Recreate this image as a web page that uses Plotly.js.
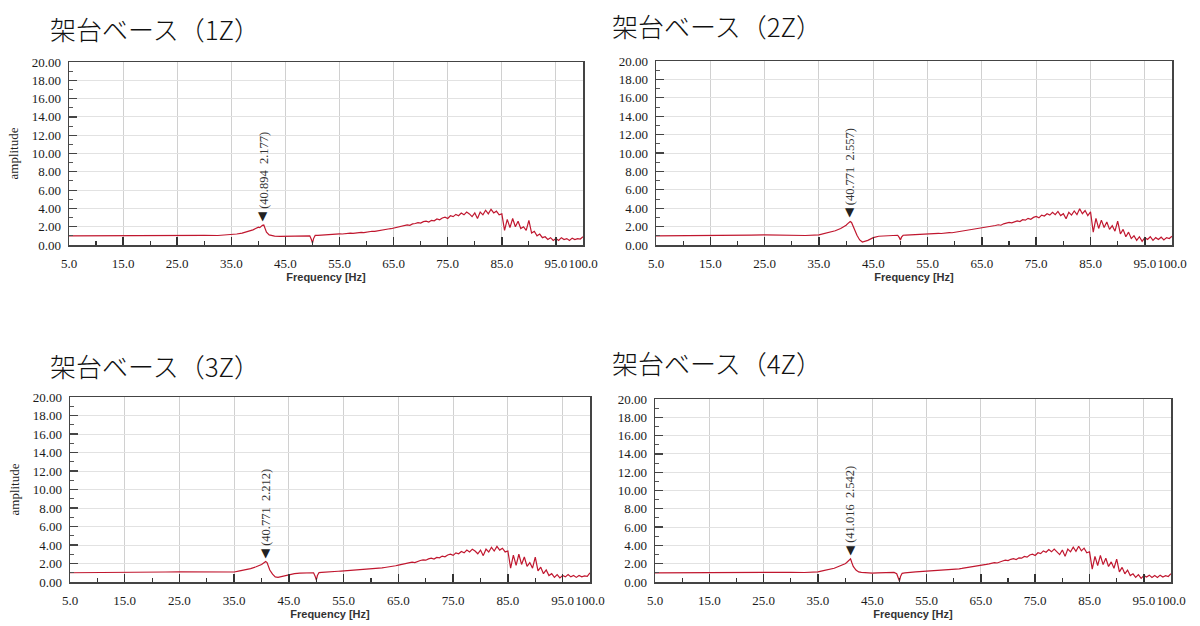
<!DOCTYPE html>
<html>
<head>
<meta charset="utf-8">
<script src="https://cdn.plot.ly/plotly-3.0.1.min.js"></script>
<style>html,body{margin:0;padding:0;background:#fff;}#chart{width:1200px;height:626px;}</style>
</head>
<body>
<div id="chart"></div>
<script>
// ---- Data ----
const chartTitles = ["架台ベース（1Z）", "架台ベース（2Z）", "架台ベース（3Z）", "架台ベース（4Z）"];

const freq = [
  5, 7.5, 10, 12.5, 15, 17.5, 20, 22.5, 25, 27.5, 30, 32.5, 35,
  36, 37, 38, 39, 39.5, 40, 40.25, 40.5, 40.75, 41, 41.25, 41.5, 42, 42.5, 43, 44, 45, 46, 47, 48, 49, 49.5, 49.8, 50, 50.2, 50.5, 51, 51.5,
  52, 52.5, 53, 53.5, 54, 54.5, 55, 55.5, 56, 56.5,
  57, 57.5, 58, 58.5, 59, 59.5, 60, 60.5, 61, 61.5,
  62, 62.5, 63, 63.5, 64, 64.5, 65, 65.5, 66, 66.5,
  67, 67.5, 68, 68.5, 69, 69.5, 70, 70.5, 71, 71.5,
  72, 72.5, 73, 73.5, 74, 74.5, 75, 75.5, 76, 76.5,
  77, 77.5, 78, 78.5, 79, 79.5, 80, 80.5, 81, 81.5,
  82, 82.5, 83, 83.5, 84, 84.5, 85, 85.5, 86, 86.5,
  87, 87.5, 88, 88.5, 89, 89.5, 90, 90.5, 91, 91.5,
  92, 92.5, 93, 93.5, 94, 94.5, 95, 95.5, 96, 96.5,
  97, 97.5, 98, 98.5, 99, 99.5, 100
];

const amp1Z = [
  1.00, 1.01, 1.02, 1.03, 1.05, 1.06, 1.08, 1.10, 1.12, 1.10, 1.06, 1.04, 1.10,
  1.20, 1.30, 1.45, 1.65, 1.80, 1.95, 1.90, 2.05, 2.15, 2.18, 1.75, 1.40, 1.10, 1.00, 0.98, 0.95, 0.95, 0.97, 1.00, 1.00, 1.02, 1.00, 0.60, 0.20, 0.70, 1.05, 1.05, 1.08,
  1.10, 1.12, 1.15, 1.13, 1.18, 1.20, 1.22, 1.20, 1.25, 1.27,
  1.30, 1.28, 1.33, 1.35, 1.38, 1.36, 1.42, 1.45, 1.50, 1.48,
  1.55, 1.60, 1.62, 1.70, 1.75, 1.78, 1.85, 1.90, 1.95, 2.05,
  2.10, 2.20, 2.15, 2.30, 2.35, 2.45, 2.40, 2.55, 2.60, 2.50,
  2.70, 2.65, 2.85, 2.75, 2.95, 3.05, 2.90, 3.20, 3.10, 3.35,
  3.20, 3.50, 3.30, 3.60, 3.40, 3.10, 3.50, 2.90, 3.60, 3.30,
  3.80, 3.40, 3.90, 3.50, 3.70, 3.30, 3.40, 1.60, 2.80, 1.90,
  2.90, 2.00, 2.60, 1.80, 2.00, 1.60, 2.70, 1.30, 1.50, 1.00,
  1.20, 0.80, 0.90, 0.60, 0.80, 0.50, 0.70, 0.50, 0.80, 0.60,
  0.70, 0.50, 0.75, 0.60, 0.70, 0.65, 0.90
];

const amp2Z = [
  1.00, 1.00, 1.01, 1.02, 1.03, 1.05, 1.06, 1.08, 1.10, 1.08, 1.05, 1.03, 1.10,
  1.25, 1.40, 1.55, 1.80, 1.95, 2.15, 2.30, 2.40, 2.56, 2.45, 2.05, 1.65, 1.05, 0.55, 0.32, 0.50, 0.80, 0.95, 1.00, 1.05, 1.08, 1.06, 0.80, 0.55, 0.85, 1.06, 1.08, 1.10,
  1.10, 1.12, 1.14, 1.15, 1.13, 1.18, 1.20, 1.22, 1.20, 1.24,
  1.27, 1.25, 1.30, 1.32, 1.35, 1.33, 1.38, 1.42, 1.45, 1.50,
  1.52, 1.58, 1.62, 1.65, 1.72, 1.75, 1.82, 1.88, 1.92, 2.00,
  2.05, 2.12, 2.20, 2.15, 2.30, 2.35, 2.45, 2.40, 2.55, 2.62,
  2.55, 2.75, 2.70, 2.90, 2.80, 3.00, 3.10, 2.95, 3.25, 3.15,
  3.40, 3.25, 3.55, 3.30, 3.65, 3.20, 3.40, 2.85, 3.55, 3.25,
  3.70, 3.30, 3.95, 3.40, 3.75, 3.20, 3.60, 1.40, 2.90, 1.80,
  2.70, 1.90, 2.50, 1.70, 2.10, 1.50, 2.60, 1.20, 1.70, 0.90,
  1.40, 0.70, 1.00, 0.50, 0.90, 0.40, 0.80, 0.60, 0.90, 0.50,
  0.80, 0.60, 0.85, 0.55, 0.80, 0.70, 0.95
];

const amp3Z = [
  1.00, 1.00, 1.01, 1.02, 1.03, 1.05, 1.06, 1.08, 1.10, 1.10, 1.06, 1.03, 1.08,
  1.20, 1.30, 1.45, 1.65, 1.75, 1.90, 2.00, 2.10, 2.21, 2.10, 1.70, 1.30, 0.85, 0.55, 0.50, 0.65, 0.80, 0.90, 0.95, 1.00, 1.02, 1.00, 0.60, 0.20, 0.70, 1.02, 1.05, 1.08,
  1.08, 1.10, 1.13, 1.12, 1.16, 1.18, 1.20, 1.19, 1.23, 1.25,
  1.28, 1.26, 1.30, 1.33, 1.36, 1.34, 1.40, 1.43, 1.47, 1.45,
  1.52, 1.57, 1.60, 1.66, 1.72, 1.76, 1.82, 1.88, 1.93, 2.00,
  2.06, 2.15, 2.10, 2.25, 2.32, 2.40, 2.36, 2.50, 2.58, 2.48,
  2.66, 2.62, 2.80, 2.72, 2.92, 3.00, 2.88, 3.15, 3.05, 3.30,
  3.15, 3.45, 3.25, 3.55, 3.35, 3.05, 3.45, 2.85, 3.55, 3.25,
  3.75, 3.35, 3.85, 3.45, 3.65, 3.25, 3.35, 1.50, 2.90, 1.80,
  3.00, 1.90, 2.70, 1.70, 2.10, 1.50, 2.70, 1.20, 1.60, 0.90,
  1.30, 0.70, 0.90, 0.50, 0.80, 0.45, 0.70, 0.55, 0.80, 0.55,
  0.70, 0.50, 0.70, 0.55, 0.65, 0.60, 1.00
];

const amp4Z = [
  1.00, 1.01, 1.02, 1.03, 1.05, 1.06, 1.08, 1.10, 1.12, 1.10, 1.06, 1.04, 1.10,
  1.25, 1.35, 1.50, 1.75, 1.85, 2.00, 2.10, 2.25, 2.35, 2.54, 2.10, 1.70, 1.30, 1.10, 1.05, 1.00, 0.98, 1.00, 1.02, 1.10, 1.05, 0.90, 0.40, 0.10, 0.60, 0.95, 1.00, 1.05,
  1.05, 1.08, 1.10, 1.12, 1.11, 1.15, 1.18, 1.20, 1.18, 1.22,
  1.25, 1.23, 1.28, 1.30, 1.33, 1.31, 1.36, 1.40, 1.44, 1.48,
  1.52, 1.56, 1.60, 1.66, 1.70, 1.75, 1.80, 1.86, 1.92, 1.98,
  2.05, 2.12, 2.08, 2.22, 2.30, 2.38, 2.34, 2.48, 2.55, 2.46,
  2.64, 2.60, 2.80, 2.72, 2.95, 3.05, 2.90, 3.20, 3.10, 3.40,
  3.25, 3.55, 3.30, 3.60, 3.35, 3.00, 3.50, 2.80, 3.60, 3.30,
  3.80, 3.35, 3.90, 3.40, 3.70, 3.20, 3.30, 1.40, 2.80, 1.80,
  2.90, 1.90, 2.60, 1.70, 2.20, 1.50, 2.50, 1.10, 1.60, 0.90,
  1.30, 0.70, 0.90, 0.50, 0.80, 0.40, 0.70, 0.55, 0.75, 0.50,
  0.70, 0.50, 0.75, 0.55, 0.70, 0.60, 0.90
];

const peakFreq = [40.894, 40.771, 40.771, 41.016];
const peakAmp = [2.177, 2.557, 2.212, 2.542];
const peakLabels = ["(40.894  2.177)", "(40.771  2.557)", "(40.771  2.212)", "(41.016  2.542)"];

const xTickVals = [5, 15, 25, 35, 45, 55, 65, 75, 85, 95, 100];
const xTickText = ["5.0", "15.0", "25.0", "35.0", "45.0", "55.0", "65.0", "75.0", "85.0", "95.0", "100.0"];
const xMinorVals = [10, 20, 30, 40, 50, 60, 70, 80, 90];
const yTickVals = [0, 2, 4, 6, 8, 10, 12, 14, 16, 18, 20];
const yTickText = ["0.00", "2.00", "4.00", "6.00", "8.00", "10.00", "12.00", "14.00", "16.00", "18.00", "20.00"];

const xAxisTitle = "Frequency [Hz]";
const yAxisTitle = "amplitude";

// ---- Layout geometry (pixels in a 1200x626 figure) ----
const W = 1200, H = 626;
const boxes = [
  {l: 69, r: 583, t: 62, b: 245, title: [48, 28], ytitle: true},
  {l: 656, r: 1172, t: 61, b: 245, title: [610, 26], ytitle: false},
  {l: 70, r: 590, t: 397, b: 582, title: [48, 365], ytitle: true},
  {l: 655, r: 1171, t: 399, b: 582, title: [610, 362], ytitle: false}
];
const series = [amp1Z, amp2Z, amp3Z, amp4Z];

const tickFont = {family: "Liberation Serif, serif", size: 13, color: "#1a1a1a"};
const lineColor = "#c0172f";

const data = [];
const layout = {
  width: W, height: H,
  margin: {l: 0, r: 0, t: 0, b: 0},
  paper_bgcolor: "#fff", plot_bgcolor: "#fff",
  showlegend: false,
  annotations: [],
  shapes: []
};

boxes.forEach((bx, i) => {
  const n = i === 0 ? "" : String(i + 1);
  const xa = "x" + n, ya = "y" + n;
  data.push({
    x: freq, y: series[i], xaxis: xa, yaxis: ya,
    type: "scatter", mode: "lines",
    line: {color: lineColor, width: 1.2},
    hoverinfo: "skip"
  });
  layout["xaxis" + n] = {
    domain: [bx.l / W, bx.r / W], anchor: ya,
    range: [5, 100], fixedrange: true,
    tickmode: "array", tickvals: xTickVals, ticktext: xTickText,
    tickangle: 0,
    ticks: "inside", ticklen: 8, tickwidth: 1.5, tickcolor: "#333",
    ticklabelstandoff: 6,
    minor: {tickmode: "array", tickvals: xMinorVals, ticks: "inside", ticklen: 4, tickwidth: 1.2, tickcolor: "#333", showgrid: false},
    showgrid: true, gridcolor: "#d0d0d0", gridwidth: 1,
    showline: true, linecolor: "#444", linewidth: 1.5, mirror: true,
    zeroline: false,
    tickfont: tickFont,
    title: {text: xAxisTitle, standoff: 1, font: {family: "Liberation Sans, Arial, sans-serif", size: 11, color: "#333", weight: "bold"}}
  };
  layout["yaxis" + n] = {
    domain: [1 - bx.b / H, 1 - bx.t / H], anchor: xa,
    range: [0, 20], fixedrange: true,
    tickmode: "array", tickvals: yTickVals, ticktext: yTickText,
    ticks: "inside", ticklen: 8, tickwidth: 1.2, tickcolor: "#444",
    ticklabelstandoff: 4,
    minor: {dtick: 1, ticks: "inside", ticklen: 4, tickwidth: 1, tickcolor: "#555", showgrid: false},
    showgrid: true, gridcolor: "#e2e2e2", gridwidth: 1,
    showline: true, linecolor: "#444", linewidth: 1.5, mirror: true,
    zeroline: false,
    tickfont: tickFont,
    title: bx.ytitle ? {text: yAxisTitle, standoff: 10, font: {family: "Liberation Serif, serif", size: 13, color: "#222"}} : {text: ""}
  };
  // chart title
  layout.annotations.push({
    text: chartTitles[i], xref: "paper", yref: "paper",
    x: bx.title[0] / W, y: 1 - bx.title[1] / H, xanchor: "left", yanchor: "middle",
    showarrow: false,
    font: {family: "Noto Sans CJK JP, sans-serif", size: 26, color: "#111", weight: 300}
  });
  // peak marker
  layout.annotations.push({
    text: "▼", xref: xa, yref: ya, x: peakFreq[i], y: peakAmp[i],
    xanchor: "center", yanchor: "bottom", showarrow: false,
    font: {family: "DejaVu Sans, sans-serif", size: 12, color: "#222"}
  });
  layout.annotations.push({
    text: peakLabels[i], xref: xa, yref: ya, x: peakFreq[i], y: peakAmp[i],
    xanchor: "center", yanchor: "bottom", yshift: 14, textangle: -90, showarrow: false,
    font: {family: "Liberation Serif, serif", size: 12.5, color: "#333"}
  });
});

Plotly.newPlot("chart", data, layout, {staticPlot: true, displayModeBar: false});
</script>
</body>
</html>
